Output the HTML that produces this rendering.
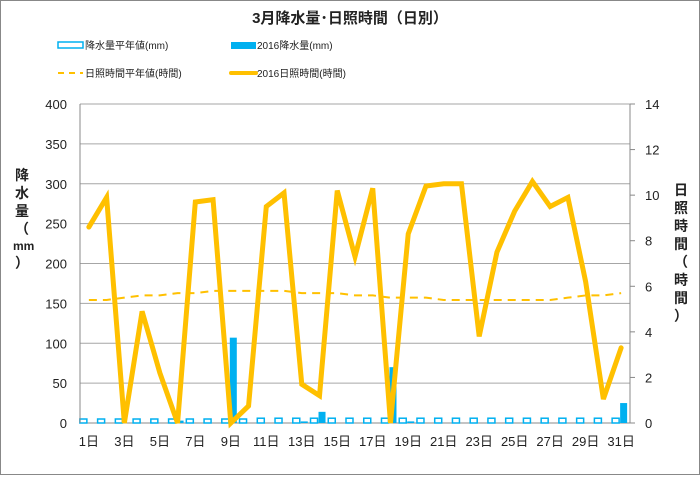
<!DOCTYPE html>
<html><head><meta charset="utf-8"><style>
body{margin:0;background:#fff;font-family:"Liberation Sans","Noto Sans CJK JP",sans-serif}
</style></head><body>
<svg id="c" width="700" height="475" xmlns="http://www.w3.org/2000/svg" font-family="Liberation Sans, Noto Sans CJK JP, sans-serif">
<rect x="0.5" y="0.5" width="699" height="474" fill="#fff" stroke="#888"/>
<text x="350" y="23" text-anchor="middle" font-size="15" font-weight="bold" fill="#222">3月降水量･日照時間（日別）</text>
<g font-size="10" fill="#222">
<g><rect x="58" y="42" width="25" height="6" fill="#fff" stroke="#00b0f0" stroke-width="1.5"/><text x="85" y="49">降水量平年値(mm)</text></g>
<g><rect x="231" y="42" width="25" height="7" fill="#00b0f0"/><text x="257" y="49">2016降水量(mm)</text></g>
<g><line x1="58" y1="73" x2="83" y2="73" stroke="#ffc000" stroke-width="2" stroke-dasharray="6,5"/><text x="85" y="77">日照時間平年値(時間)</text></g>
<g><line x1="231" y1="73" x2="256" y2="73" stroke="#ffc000" stroke-width="4" stroke-linecap="round"/><text x="257" y="77">2016日照時間(時間)</text></g>
</g>
<g id="grid"></g><g id="bars"></g><g id="lines"></g><g id="axes"></g>
<text x="22" y="200" font-size="14" font-weight="bold" fill="#222"><tspan x="15" y="180">降</tspan><tspan x="15" y="198">水</tspan><tspan x="15" y="216">量</tspan><tspan x="15" y="234">（</tspan><tspan x="13" y="250" font-size="12">mm</tspan><tspan x="15" y="268">）</tspan></text>
<text font-size="14" font-weight="bold" fill="#222"><tspan x="674" y="195">日</tspan><tspan x="674" y="213">照</tspan><tspan x="674" y="231">時</tspan><tspan x="674" y="249">間</tspan><tspan x="674" y="267">（</tspan><tspan x="674" y="285">時</tspan><tspan x="674" y="303">間</tspan><tspan x="674" y="321">）</tspan></text>
</svg>
<script>
const days=[];for(let i=1;i<=31;i++)days.push(i);
const rainNormal=[5,5,5,5,5,5,5,5,5,5,6,6,6,6,6,6,6,6,6,6,6,6,6,6,6,6,6,6,6,6,6];
const rain2016=[0,0,0,0,0,3,0,0,107,0,0,0,2,14,0,0,0,70,2,0,0,0,0,0,0,0,0,0,0,0,25];
const sunNormal=[5.4,5.4,5.5,5.6,5.6,5.7,5.7,5.8,5.8,5.8,5.8,5.8,5.7,5.7,5.7,5.6,5.6,5.5,5.5,5.5,5.4,5.4,5.4,5.4,5.4,5.4,5.4,5.5,5.6,5.6,5.7];
const sun2016=[8.6,9.9,0,4.9,2.2,0,9.7,9.8,0,0.75,9.5,10.1,1.7,1.2,10.2,7.3,10.3,0,8.3,10.4,10.5,10.5,3.8,7.5,9.3,10.6,9.5,9.9,6.2,1.05,3.3];
const leftTicks=[0,50,100,150,200,250,300,350,400];
const rightTicks=[0,2,4,6,8,10,12,14];
const X0=80,X1=630,Y0=423,Y1=104,cw=(X1-X0)/days.length;
const xc=i=>X0+cw*(i+0.5);
const yL=v=>Y0-(v/400)*(Y0-Y1);
const yR=v=>Y0-(v/14)*(Y0-Y1);
const NS="http://www.w3.org/2000/svg";
function mk(t,a,p){const e=document.createElementNS(NS,t);for(const k in a)e.setAttribute(k,a[k]);p.appendChild(e);return e;}
const G=document.getElementById('grid'),B=document.getElementById('bars'),L=document.getElementById('lines'),A=document.getElementById('axes');
leftTicks.forEach(v=>{const l=mk('line',{x1:X0,x2:X1,y1:yL(v),y2:yL(v),stroke:v==0?'#888':'#a6a6a6','stroke-width':1},G);


const t=mk('text',{x:X0-13,y:yL(v)+5,'text-anchor':'end','font-size':13,fill:'#222'},A);t.textContent=v;

});
rightTicks.forEach(v=>{const t=mk('text',{x:X1+15,y:yR(v)+5,'font-size':13,fill:'#222'},A);t.textContent=v;


mk('line',{x1:X1,x2:X1+5,y1:yR(v),y2:yR(v),stroke:'#888'},A);});
mk('line',{x1:X0,x2:X0,y1:Y1,y2:Y0,stroke:'#888'},A);
mk('line',{x1:X1,x2:X1,y1:Y1,y2:Y0,stroke:'#888'},A);
days.forEach((d,i)=>{
 const n=mk('rect',{x:xc(i)-9,y:yL(rainNormal[i]),width:7,height:Y0-yL(rainNormal[i]),fill:'#fff',stroke:'#00b0f0','stroke-width':1.5},B);
 
 
 if(rain2016[i]>0){const r=mk('rect',{x:xc(i)-1,y:yL(rain2016[i]),width:7,height:Y0-yL(rain2016[i]),fill:'#00b0f0'},B);
 
 }
 if(i%2==0){const t=mk('text',{x:xc(i),y:446,'text-anchor':'middle','font-size':13,fill:'#222'},A);t.textContent=d+'日';
 
 }
});
const pn=mk('polyline',{points:sunNormal.map((v,i)=>xc(i)+','+yR(v)).join(' '),fill:'none',stroke:'#ffc000','stroke-width':2,'stroke-dasharray':'8,6'},L);


const ps=mk('polyline',{points:sun2016.map((v,i)=>xc(i)+','+yR(v)).join(' '),fill:'none',stroke:'#ffc000','stroke-width':5,'stroke-linejoin':'miter','stroke-linecap':'round'},L);


</script>
</body></html>
